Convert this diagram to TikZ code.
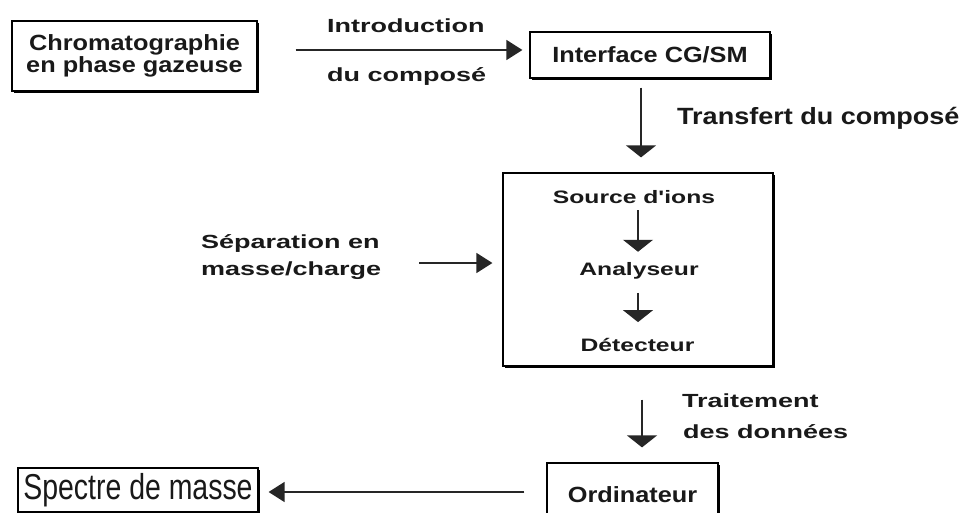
\documentclass[tikz,border=0pt]{standalone}
\usepackage{fontspec}
\setmainfont{Liberation Sans}
\newfontfamily\boxfont[FakeStretch=1.15]{Liberation Sans}
\newfontfamily\labfont[FakeStretch=1.42]{Liberation Sans}
\newfontfamily\innfont[FakeStretch=1.37]{Liberation Sans}
\newfontfamily\narrowfont[FakeStretch=0.79]{Liberation Sans}
\usetikzlibrary{arrows.meta,shadows}
\begin{document}
\begin{tikzpicture}[x=1pt,y=-1pt,
  box/.style={draw=black, line width=1.2pt, fill=white, inner sep=0pt, text=black!90,
    drop shadow={shadow xshift=1.6pt,shadow yshift=-1.6pt,fill=black,opacity=1}},
  boxtxt/.style={font=\boxfont\bfseries\fontsize{22}{22}\selectfont},
  lab/.style={font=\labfont\bfseries\fontsize{19}{19}\selectfont, inner sep=0pt, text=black!90},
  tlab/.style={font=\boxfont\bfseries\fontsize{23.5}{23.5}\selectfont, inner sep=0pt, text=black!90},
  inn/.style={font=\innfont\bfseries\fontsize{18}{18}\selectfont, inner sep=0pt, text=black!90},
  varr/.style={draw=black!85, line width=1.3pt, -{Triangle[length=12pt,width=30pt]}},
  harr/.style={draw=black!85, line width=1.3pt, -{Triangle[length=16pt,width=20pt]}}
]
\useasboundingbox (0,0) rectangle (963,513);
\fill[white] (0,0) rectangle (963,513);
\clip (0,0) rectangle (963,513);

% helper coordinates for connector rows/columns
\coordinate (rowA) at (0,50);
\coordinate (rowB) at (0,263);
\coordinate (rowC) at (0,492);
\coordinate (colA) at (641,0);
\coordinate (colB) at (642,0);

% boxes
\node[box, boxtxt, minimum width=245pt, minimum height=70pt, align=center] (chrom) at (134.5,56) {Chromatographie\\en phase gazeuse};
\node[box, boxtxt, minimum width=240pt, minimum height=46pt] (iface) at (650,55) {Interface CG/SM};
\node[box, minimum width=270pt, minimum height=193pt] (ms) at (638,269.5) {};
\node[box, boxtxt, minimum width=171pt, minimum height=64pt] (ord) at (632.5,495) {Ordinateur};
\node[box, font=\narrowfont\fontsize{36}{36}\selectfont, minimum width=240pt, minimum height=44pt] (spec) at (138,490) {Spectre de masse};

% inner texts
\node[inn, anchor=base] (src) at (634,204) {Source d{\char"27}ions};
\node[inn, anchor=base] (ana) at (639,275) {Analyseur};
\node[inn, anchor=base] (det) at (637.5,351) {Détecteur};

% labels
\node[lab, anchor=base west] (intro) at (327,33) {Introduction};
\node[lab, anchor=base west] (ducomp) at (327,82) {du composé};
\node[tlab, anchor=base west] (transf) at (677,125) {Transfert du composé};
\node[lab, anchor=base west] (sep) at (201,248) {\vtop{\baselineskip=27pt\hbox{Séparation en}\hbox{masse/charge}}};
\node[lab, anchor=base west] (trait) at (682,407) {Traitement};
\node[lab, anchor=base west] (donn) at (683,438) {des données};

% connectors
\draw[harr, shorten <=38pt, shorten >=7pt] (chrom.east |- rowA) -- (iface.west |- rowA);
\draw[varr, shorten <=9pt, shorten >=15pt] (iface.south -| colA) -- (ms.north -| colA);
\draw[varr, shorten <=6pt, shorten >=10pt] (src.south -| ms.center) -- (ana.north -| ms.center);
\draw[varr, shorten <=14pt, shorten >=15.5pt] (ana.south -| ms.center) -- (det.north -| ms.center);
\draw[harr, shorten <=38pt, shorten >=10pt] (sep.east |- rowB) -- (ms.west |- rowB);
\draw[varr, shorten <=33pt, shorten >=15pt] (ms.south -| colB) -- (ord.north -| colB);
\draw[harr, shorten <=22pt, shorten >=10pt] (ord.west |- rowC) -- (spec.east |- rowC);
\end{tikzpicture}
\end{document}
